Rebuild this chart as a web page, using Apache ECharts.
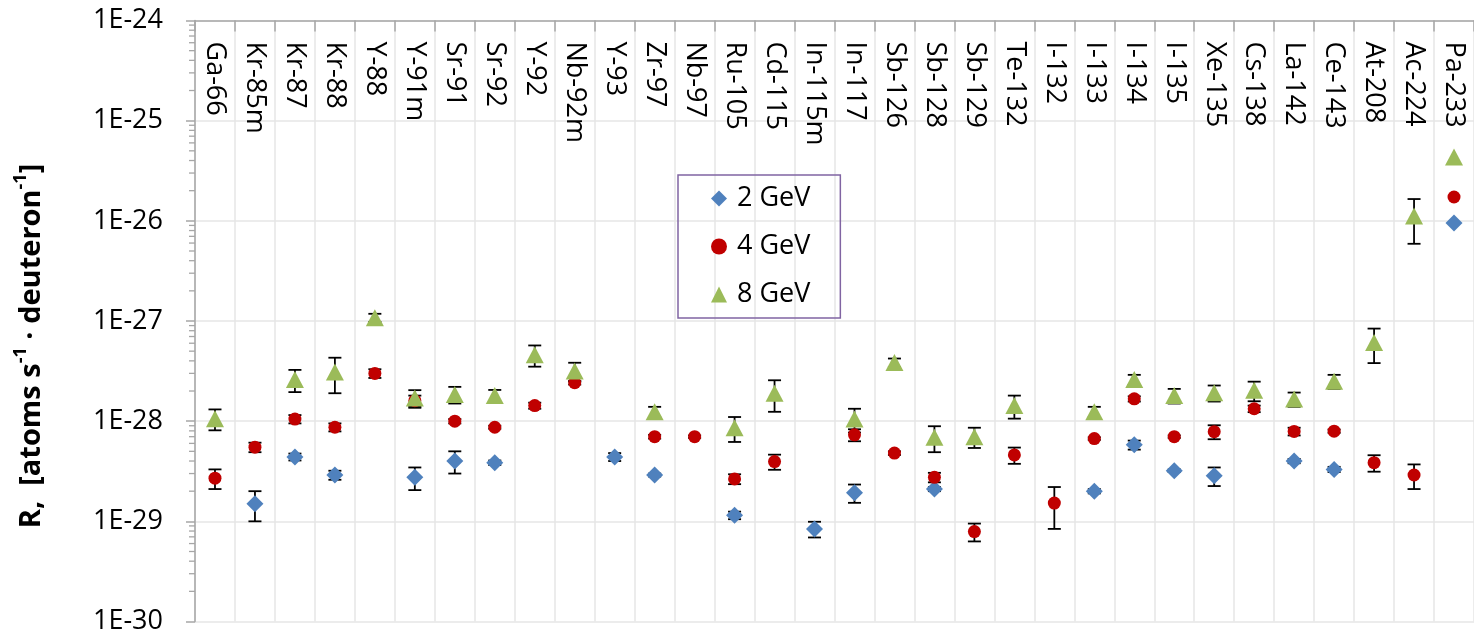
<!DOCTYPE html>
<html><head><meta charset="utf-8">
<script src="https://cdn.jsdelivr.net/npm/echarts@6/dist/echarts.min.js"></script>
<style>html,body{margin:0;padding:0;background:#fff}#c{width:1474px;height:638px}</style>
</head><body><div id="c"></div>
<script>
const categories = ['Ga-66','Kr-85m','Kr-87','Kr-88','Y-88','Y-91m','Sr-91','Sr-92','Y-92','Nb-92m','Y-93','Zr-97','Nb-97','Ru-105','Cd-115','In-115m','In-117','Sb-126','Sb-128','Sb-129','Te-132','I-132','I-133','I-134','I-135','Xe-135','Cs-138','La-142','Ce-143','At-208','Ac-224','Pa-233'];

// R values, atoms s^-1 deuteron^-1 (null = not measured)
const gev2 = [null,1.5e-29,4.4e-29,2.9e-29,null,2.75e-29,4.0e-29,3.85e-29,null,null,4.4e-29,2.9e-29,null,1.15e-29,null,8.4e-30,1.93e-29,null,2.1e-29,null,null,null,2.0e-29,5.8e-29,3.2e-29,2.85e-29,null,4.0e-29,3.3e-29,null,null,9.5e-27];
const gev2Err = [null,0.5e-29,0.35e-29,0.3e-29,null,0.7e-29,1.0e-29,0.2e-29,null,null,0.4e-29,0.1e-29,null,0.1e-29,null,1.5e-30,0.4e-29,null,0.1e-29,null,null,null,0.1e-29,0.6e-29,0.1e-29,0.6e-29,null,0.2e-29,0.2e-29,null,null,0];

const gev4 = [2.7e-29,5.5e-29,1.05e-28,8.7e-29,3.0e-28,1.6e-28,1.0e-28,8.7e-29,1.43e-28,2.42e-28,null,7.0e-29,7.0e-29,2.65e-29,3.95e-29,null,7.3e-29,4.8e-29,2.75e-29,7.9e-30,4.6e-29,1.52e-29,6.7e-29,1.67e-28,7.0e-29,7.85e-29,1.33e-28,7.9e-29,7.95e-29,3.85e-29,2.9e-29,1.73e-26];
const gev4Err = [0.6e-29,0.6e-29,0.1e-28,0.8e-29,0.3e-28,0.2e-28,0.05e-28,0.3e-29,0.1e-28,0.1e-28,null,0.3e-29,0.2e-29,0.3e-29,0.68e-29,null,1.0e-29,0.2e-29,0.3e-29,1.6e-30,0.85e-29,0.68e-29,0.2e-29,0.1e-28,0.2e-29,1.25e-29,0.1e-28,0.7e-29,0.3e-29,0.72e-29,0.8e-29,0];

const gev8 = [1.06e-28,null,2.6e-28,3.1e-28,1.08e-27,1.7e-28,1.85e-28,1.8e-28,4.6e-28,3.16e-28,null,1.24e-28,null,8.6e-29,1.9e-28,null,1.05e-28,3.85e-28,6.9e-29,7.0e-29,1.43e-28,null,1.24e-28,2.6e-28,1.8e-28,1.92e-28,2.03e-28,1.66e-28,2.5e-28,6.1e-28,1.12e-26,4.35e-26];
const gev8Err = [0.25e-28,null,0.65e-28,1.2e-28,0.1e-27,0.34e-28,0.35e-28,0.25e-28,1.1e-28,0.67e-28,null,0.15e-28,null,2.4e-29,0.66e-28,null,0.28e-28,0.37e-28,2.0e-29,1.6e-29,0.37e-28,null,0.15e-28,0.3e-28,0.3e-28,0.35e-28,0.45e-28,0.27e-28,0.4e-28,2.3e-28,0.53e-26,0];

const yTickExponents = [-30,-29,-28,-27,-26,-25,-24];
const seriesNames = ['2 GeV','4 GeV','8 GeV'];

// unit change so the log axis works in a comfortable numeric range
const UNIT = 1e-30;
const toU = v => v / UNIT;

const colors = ['#4f81bd','#c00000','#9bbb59'];
const symbols = ['diamond','circle','triangle'];
const sizes = [[17,17],[13,13],[18,17]];
const FONT = 'Open Sans';

function scatterData(vals){ return vals.map(v => v == null ? '-' : toU(v)); }
function errData(vals, errs){
  const out = [];
  vals.forEach((v,i) => { if (v != null && errs[i]) out.push([i, toU(v), toU(v - errs[i]), toU(v + errs[i])]); });
  return out;
}
function errRender(params, api){
  const i = api.value(0);
  const pHi = api.coord([i, api.value(3)]);
  const pLo = api.coord([i, api.value(2)]);
  const hw = 6.5;
  const st = {stroke:'#000', lineWidth:1.8};
  return {type:'group', children:[
    {type:'line', shape:{x1:pHi[0], y1:pHi[1], x2:pLo[0], y2:pLo[1]}, style:st},
    {type:'line', shape:{x1:pHi[0]-hw, y1:pHi[1], x2:pHi[0]+hw, y2:pHi[1]}, style:st},
    {type:'line', shape:{x1:pLo[0]-hw, y1:pLo[1], x2:pLo[0]+hw, y2:pLo[1]}, style:st}
  ]};
}
// minor log ticks on the left axis (2..9 within each decade)
const minorTickVals = [];
for (let e = -30; e < -24; e++) for (let k = 2; k <= 9; k++) minorTickVals.push([0, toU(k * Math.pow(10, e))]);
function minorRender(params, api){
  const p = api.coord([0, api.value(1)]);
  const x0 = params.coordSys.x;
  return {type:'line', shape:{x1:x0-6, y1:p[1], x2:x0, y2:p[1]}, style:{stroke:'#a6a6a6', lineWidth:1.3}};
}

const vals = [gev2, gev4, gev8], errs = [gev2Err, gev4Err, gev8Err];
const series = [];
vals.forEach((v, k) => {
  series.push({name: seriesNames[k] + ' err', type:'custom', renderItem: errRender, data: errData(v, errs[k]),
    encode:{x:0, y:1}, z: 3, silent:true, clip:false});
});
vals.forEach((v, k) => {
  series.push({name: seriesNames[k], type:'scatter', data: scatterData(v), symbol: symbols[k], symbolSize: sizes[k],
    itemStyle:{color: colors[k], opacity:1}, z: 5 + k});
});
series.push({name:'minor', type:'custom', renderItem: minorRender, data: minorTickVals, encode:{x:0,y:1}, z: 2, silent:true, clip:false});

const chart = echarts.init(document.getElementById('c'), null, {renderer:'canvas'});
chart.setOption({
  animation:false,
  backgroundColor:'#fff',
  textStyle:{fontFamily: FONT},
  grid:{left:195, top:20.5, width:1280, height:601, containLabel:false},
  xAxis:{type:'category', data: categories, position:'top', boundaryGap:true,
    axisLine:{show:true, onZero:false, lineStyle:{color:'#a6a6a6', width:1.5}},
    axisTick:{show:true, inside:true, length:11, interval:0, lineStyle:{color:'#a6a6a6', width:1.5}},
    axisLabel:{inside:true, rotate:90, interval:0, margin:21, fontSize:27, color:'#000', fontFamily: FONT},
    splitLine:{show:true, interval:0, lineStyle:{color:'#e6e6e6', width:1.5}}},
  yAxis:{type:'log', logBase:10, min: toU(Math.pow(10, yTickExponents[0])), max: toU(Math.pow(10, yTickExponents[yTickExponents.length-1])), splitNumber:6,
    axisLine:{show:true, lineStyle:{color:'#a6a6a6', width:1.5}},
    axisTick:{show:true, length:9, lineStyle:{color:'#a6a6a6', width:1.5}},
    axisLabel:{margin:32, fontSize:27, color:'#000', fontFamily: FONT,
      formatter: v => '1E' + Math.round(Math.log10(v * UNIT))},
    splitLine:{show:true, lineStyle:{color:'#e6e6e6', width:1.5}}},
  legend:{data: seriesNames, orient:'vertical', left:678, top:175, padding:[10,30,10,33], itemGap:21,
    itemWidth:16, itemHeight:16, borderColor:'#8064a2', borderWidth:1.5, backgroundColor:'transparent',
    textStyle:{fontSize:27, color:'#000', fontFamily: FONT, padding:[0,0,0,5]}},
  graphic:[{type:'text', x:29, y:346, rotation: Math.PI/2,
    style:{text:'{b|R,  [atoms s}{s|-1}{b| · deuteron}{s|-1}{b|]}', align:'center', verticalAlign:'middle',
      rich:{b:{fontSize:29, fontWeight:'bold', fontFamily: FONT, fill:'#000', lineHeight:34, verticalAlign:'bottom'},
            s:{fontSize:18, fontWeight:'bold', fontFamily: FONT, fill:'#000', lineHeight:34, verticalAlign:'top'}}}}],
  series: series
});
</script></body></html>
